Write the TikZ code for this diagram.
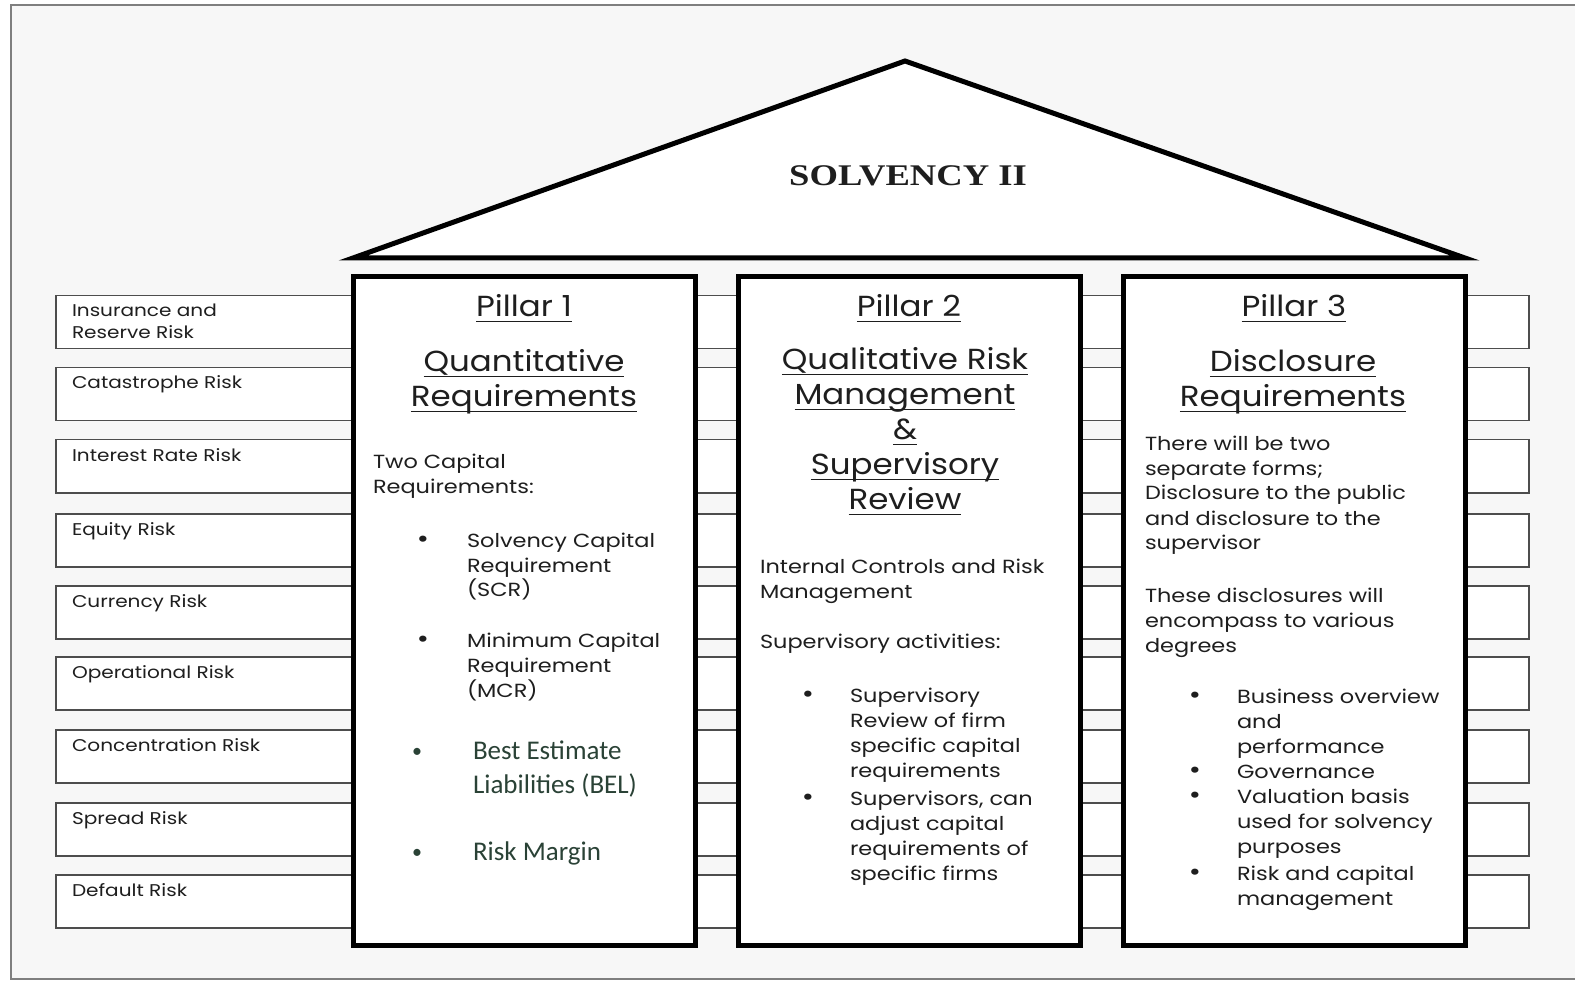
\documentclass[tikz,border=0pt]{standalone}
\usepackage{fontspec}
\setmainfont{Poppins}
\newfontfamily\bodyf[FakeStretch=1.18]{Poppins}
\newfontfamily\headf[FakeStretch=1.12]{Poppins}
\newfontfamily\calf{Carlito}
\newfontfamily\ttlf[FakeStretch=1.22]{Liberation Serif}
\definecolor{framegray}{HTML}{7F7F7F}
\definecolor{bggray}{HTML}{F7F7F7}
\definecolor{stripgray}{HTML}{4D4D4D}
\definecolor{txt}{HTML}{1E1E1E}
\definecolor{calgreen}{HTML}{2A4236}
\newcommand\hul[1]{\leavevmode\setbox0\hbox{#1}\rlap{\rule[-5.5pt]{\wd0}{1.6pt}}\box0}
\newcommand\blk[2]{\parbox[t]{#1}{\raggedright #2}}
\newcommand\cblk[2]{\parbox[t]{#1}{\centering #2}}
\newcommand\fbody{\bodyf\fontsize{19}{25}\selectfont}
\newcommand\fhead{\headf\fontsize{29}{35}\selectfont}
\newcommand\frisk{\bodyf\fontsize{17}{22}\selectfont}
\newcommand\fcal{\calf\fontsize{27}{34}\selectfont}
\newcommand\bbul{\bodyf\fontsize{25}{25}\selectfont\textbullet}
\newcommand\cbul{\calf\fontsize{20}{20}\selectfont\textbullet}
\tikzset{
  tx/.style={inner sep=0pt, outer sep=0pt, text=txt},
  strip/.style={draw=stripgray, line width=1.5pt, fill=white, minimum width=1473pt, minimum height=53pt, inner sep=0pt},
  pillar/.style={draw=black, line width=5pt, fill=white, minimum width=342pt, minimum height=668pt, inner sep=0pt},
  roof/.style={draw=black, line width=5pt, fill=white, line join=miter},
  frame/.style={draw=framegray, line width=2pt, fill=bggray}
}
\begin{document}
\begin{tikzpicture}[x=1pt, y=-1pt]
\useasboundingbox (0,0) rectangle (1575,981);
\draw[frame] (11,5) rectangle (1590,979);
% risk strips
\foreach \t/\lab [count=\i] in {295/{Insurance and\\Reserve Risk}, 367/{Catastrophe Risk}, 439/{Interest Rate Risk}, 513/{Equity Risk}, 585/{Currency Risk}, 656/{Operational Risk}, 729/{Concentration Risk}, 802/{Spread Risk}, 874/{Default Risk}}{
  \node[strip, anchor=north west] (s\i) at (55,\t) {};
  \node[tx, anchor=base west] (l\i) at (72,\t+22) {\blk{260pt}{\frisk \lab}};
}
% pillars
\node[pillar] (p1) at (524,611) {};
\node[pillar] (p2) at (909,611) {};
\node[pillar] (p3) at (1294,611) {};
% roof
\draw[roof] (353,258) -- (905,61) -- (1465,258) -- cycle;
\node[tx, anchor=base] (title) at (908,186) {\ttlf\bfseries\fontsize{30}{36}\selectfont SOLVENCY II};
% pillar 1
\node[tx, anchor=base] (h1a) at (524,317) {\cblk{300pt}{\fhead\hul{Pillar 1}}};
\node[tx, anchor=base] (h1b) at (524,372) {\cblk{320pt}{\fhead\hul{Quantitative}\\\hul{Requirements}}};
\node[tx, anchor=base west] (b1a) at (373,468) {\blk{300pt}{\fbody Two Capital\\Requirements:}};
\node[tx, anchor=base] (d1a) at (423,547) {\bbul};
\node[tx, anchor=base west] (i1a) at (467,547) {\blk{240pt}{\fbody Solvency Capital\\Requirement\\(SCR)}};
\node[tx, anchor=base] (d1b) at (423,647) {\bbul};
\node[tx, anchor=base west] (i1b) at (467,647) {\blk{240pt}{\fbody Minimum Capital\\Requirement\\(MCR)}};
\node[tx, text=calgreen, anchor=base] (d1c) at (417,757) {\cbul};
\node[tx, text=calgreen, anchor=base west] (i1c) at (473,759) {\blk{240pt}{\fcal Best Estimate\\Liabilities (BEL)}};
\node[tx, text=calgreen, anchor=base] (d1d) at (417,858) {\cbul};
\node[tx, text=calgreen, anchor=base west] (i1d) at (473,860) {\blk{240pt}{\fcal Risk Margin}};
% pillar 2
\node[tx, anchor=base] (h2a) at (909,317) {\cblk{300pt}{\fhead\hul{Pillar 2}}};
\node[tx, anchor=base] (h2b) at (905,370) {\cblk{330pt}{\fhead\hul{Qualitative Risk}\\\hul{Management}\\\hul{\&}\\\hul{Supervisory}\\\hul{Review}}};
\node[tx, anchor=base west] (b2a) at (760,573) {\blk{320pt}{\fbody Internal Controls and Risk\\Management}};
\node[tx, anchor=base west] (b2b) at (760,648) {\blk{320pt}{\fbody Supervisory activities:}};
\node[tx, anchor=base] (d2a) at (808,702) {\bbul};
\node[tx, anchor=base west] (i2a) at (850,702) {\blk{240pt}{\fbody Supervisory\\Review of firm\\specific capital\\requirements}};
\node[tx, anchor=base] (d2b) at (808,805) {\bbul};
\node[tx, anchor=base west] (i2b) at (850,805) {\blk{240pt}{\fbody Supervisors, can\\adjust capital\\requirements of\\specific firms}};
% pillar 3
\node[tx, anchor=base] (h3a) at (1294,317) {\cblk{300pt}{\fhead\hul{Pillar 3}}};
\node[tx, anchor=base] (h3b) at (1293,372) {\cblk{320pt}{\fhead\hul{Disclosure}\\\hul{Requirements}}};
\node[tx, anchor=base west] (b3a) at (1145,450) {\blk{320pt}{\fbody There will be two\\separate forms;\\Disclosure to the public\\and disclosure to the\\supervisor}};
\node[tx, anchor=base west] (b3b) at (1145,602) {\blk{320pt}{\fbody These disclosures will\\encompass to various\\degrees}};
\node[tx, anchor=base] (d3a) at (1195,703) {\bbul};
\node[tx, anchor=base west] (i3a) at (1237,703) {\blk{260pt}{\fbody Business overview\\and\\performance}};
\node[tx, anchor=base] (d3b) at (1195,778) {\bbul};
\node[tx, anchor=base west] (i3b) at (1237,778) {\blk{260pt}{\fbody Governance}};
\node[tx, anchor=base] (d3c) at (1195,803) {\bbul};
\node[tx, anchor=base west] (i3c) at (1237,803) {\blk{260pt}{\fbody Valuation basis\\used for solvency\\purposes}};
\node[tx, anchor=base] (d3d) at (1195,880) {\bbul};
\node[tx, anchor=base west] (i3d) at (1237,880) {\blk{260pt}{\fbody Risk and capital\\management}};
\end{tikzpicture}
\end{document}
